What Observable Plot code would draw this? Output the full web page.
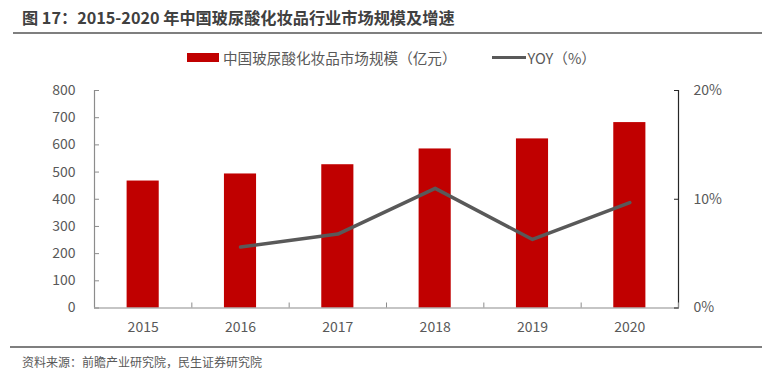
<!DOCTYPE html>
<html>
<head>
<meta charset="utf-8">
<script src="https://cdn.jsdelivr.net/npm/d3@7"></script>
<script src="https://cdn.jsdelivr.net/npm/@observablehq/plot@0.6"></script>
<style>
  html, body { margin: 0; padding: 0; background: #fff; }
  body { width: 762px; height: 377px; position: relative; overflow: hidden;
         font-family: "Noto Sans CJK SC", "Noto Sans", sans-serif; color: #595959; }
  #title { position: absolute; left: 22px; top: 5px; font-size: 16.2px; font-weight: bold; color: #404040; white-space: nowrap; }
  #rule1 { position: absolute; left: 13px; top: 32px; width: 749px; height: 2px; background: #7f7f7f; }
  #legend { position: absolute; top: 47px; left: 187px; height: 20px; display: flex; align-items: center; font-size: 14.6px; color: #595959; white-space: nowrap; }
  .sw-bar { display: inline-block; width: 32px; height: 9px; background: #C00000; margin-right: 4px; }
  .sw-line { display: inline-block; width: 34px; height: 3px; background: #595959; margin-left: 35px; margin-right: 2px; }
  #chart { position: absolute; left: 0; top: 75px; }
  #rule2 { position: absolute; left: 10px; top: 346px; width: 752px; height: 1.5px; background: #7f7f7f; }
  #source { position: absolute; left: 22px; top: 353px; font-size: 12px; color: #595959; white-space: nowrap; }
</style>
</head>
<body>
<div id="title">图 17：2015-2020 年中国玻尿酸化妆品行业市场规模及增速</div>
<div id="rule1"></div>
<div id="legend"><span class="sw-bar"></span><span>中国玻尿酸化妆品市场规模（亿元）</span><span class="sw-line"></span><span>YOY（%）</span></div>
<div id="chart"></div>
<div id="rule2"></div>
<div id="source">资料来源：前瞻产业研究院，民生证券研究院</div>
<script>
const years = [2015, 2016, 2017, 2018, 2019, 2020];
const marketSize = [467, 493, 527, 585, 622, 682];
const yoyYears = [2016, 2017, 2018, 2019, 2020];
const yoyValues = [5.6, 6.8, 11.0, 6.3, 9.7];
const leftTicks = [0, 100, 200, 300, 400, 500, 600, 700, 800];
const rightTicks = [0, 10, 20];

const leftMax = 800, rightMax = 20;
const ratio = leftMax / rightMax;
const bars = years.map((y, i) => ({year: y, value: marketSize[i]}));
const yoy = yoyYears.map((y, i) => ({year: y, yoy: yoyValues[i]}));
const halfBar = 0.165;
const boundaries = years.map(y => y + 0.5);

const chart = Plot.plot({
  width: 762,
  height: 270,
  marginTop: 15,
  marginBottom: 37.5,
  marginLeft: 94,
  marginRight: 84,
  style: {fontFamily: '"Noto Sans CJK SC", "Noto Sans", sans-serif', background: "transparent"},
  x: {domain: [years[0] - 0.5, years[years.length - 1] + 0.5]},
  y: {domain: [0, leftMax]},
  marks: [
    Plot.rectY(bars, {x1: d => d.year - halfBar, x2: d => d.year + halfBar, y: "value", fill: "#C00000"}),
    Plot.ruleY([0], {stroke: "#8c8c8c", strokeWidth: 1.2}),
    Plot.ruleX([years[0] - 0.5], {stroke: "#8c8c8c", strokeWidth: 1.2}),
    Plot.ruleX([years[years.length - 1] + 0.5], {stroke: "#262626", strokeWidth: 1.2}),
    Plot.lineY(yoy, {x: "year", y: d => d.yoy * ratio, stroke: "#595959", strokeWidth: 3.5}),
    Plot.axisY({ticks: leftTicks, tickSize: -5, tickPadding: 24, tickFormat: d => String(d), fontSize: 14, fill: "#595959", stroke: "#8c8c8c", label: null}),
    Plot.axisY({anchor: "right", ticks: rightTicks.map(t => t * ratio), tickSize: -5, tickPadding: 20, tickFormat: d => (d / ratio) + "%", fontSize: 14, fill: "#595959", stroke: "#262626", label: null}),
    Plot.axisX({ticks: years, tickSize: 0, tickPadding: 14, tickFormat: d => String(d), fontSize: 14, fill: "#595959", label: null}),
    Plot.axisX({ticks: boundaries, tickSize: -5, tickFormat: () => "", stroke: "#8c8c8c", label: null})
  ]
});
document.getElementById("chart").appendChild(chart);
</script>
</body>
</html>
